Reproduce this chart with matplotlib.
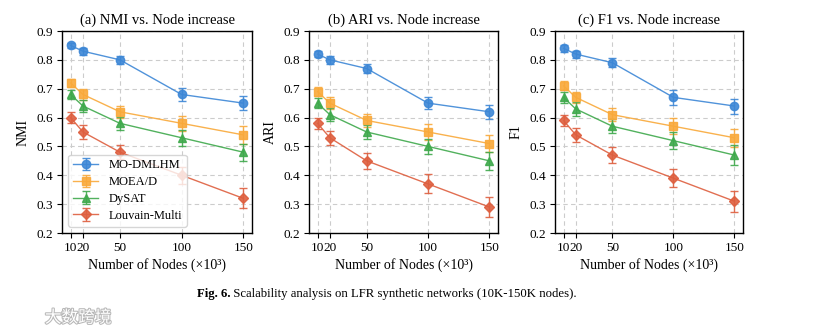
import matplotlib
matplotlib.use("Agg")
import matplotlib.pyplot as plt
from matplotlib import patheffects as pe

nodes = [10, 20, 50, 100, 150]
methods = ["MO-DMLHM", "MOEA/D", "DySAT", "Louvain-Multi"]
colors = ["#3D87D6", "#F9A93A", "#3FA94C", "#DE5F3F"]
markers = ["o", "s", "^", "D"]

nmi_mean = {
    "MO-DMLHM": [0.85, 0.83, 0.80, 0.68, 0.65],
    "MOEA/D": [0.72, 0.68, 0.62, 0.58, 0.54],
    "DySAT": [0.68, 0.64, 0.58, 0.53, 0.48],
    "Louvain-Multi": [0.60, 0.55, 0.48, 0.40, 0.32],
}
nmi_err = {
    "MO-DMLHM": [0.010, 0.012, 0.015, 0.022, 0.025],
    "MOEA/D": [0.015, 0.018, 0.020, 0.027, 0.030],
    "DySAT": [0.017, 0.020, 0.022, 0.027, 0.030],
    "Louvain-Multi": [0.020, 0.023, 0.025, 0.030, 0.035],
}
ari_mean = {
    "MO-DMLHM": [0.82, 0.80, 0.77, 0.65, 0.62],
    "MOEA/D": [0.69, 0.65, 0.59, 0.55, 0.51],
    "DySAT": [0.65, 0.61, 0.55, 0.50, 0.45],
    "Louvain-Multi": [0.58, 0.53, 0.45, 0.37, 0.29],
}
ari_err = {
    "MO-DMLHM": [0.010, 0.015, 0.016, 0.022, 0.025],
    "MOEA/D": [0.016, 0.020, 0.022, 0.026, 0.030],
    "DySAT": [0.018, 0.022, 0.025, 0.027, 0.032],
    "Louvain-Multi": [0.020, 0.024, 0.027, 0.033, 0.035],
}
f1_mean = {
    "MO-DMLHM": [0.84, 0.82, 0.79, 0.67, 0.64],
    "MOEA/D": [0.71, 0.67, 0.61, 0.57, 0.53],
    "DySAT": [0.67, 0.63, 0.57, 0.52, 0.47],
    "Louvain-Multi": [0.59, 0.54, 0.47, 0.39, 0.31],
}
f1_err = {
    "MO-DMLHM": [0.012, 0.012, 0.016, 0.025, 0.026],
    "MOEA/D": [0.016, 0.020, 0.022, 0.027, 0.032],
    "DySAT": [0.020, 0.025, 0.025, 0.030, 0.035],
    "Louvain-Multi": [0.020, 0.024, 0.027, 0.032, 0.036],
}

panels = [
    ("(a) NMI vs. Node increase", "NMI", nmi_mean, nmi_err),
    ("(b) ARI vs. Node increase", "ARI", ari_mean, ari_err),
    ("(c) F1 vs. Node increase", "F1", f1_mean, f1_err),
]
yticks = [0.2, 0.3, 0.4, 0.5, 0.6, 0.7, 0.8, 0.9]
xlabel = "Number of Nodes (×10³)"
caption_bold = "Fig. 6."
caption_rest = " Scalability analysis on LFR synthetic networks (10K-150K nodes)."
watermark = "大数跨境"

plt.rcParams["font.family"] = ["Liberation Serif", "DejaVu Serif"]

fig = plt.figure(figsize=(8.30, 3.33), dpi=100)
lefts = [62 / 830, 309 / 830, 555 / 830]
widths = [190 / 830, 189 / 830, 188 / 830]
bottom = 100 / 333
height = 202 / 333

for i, (title, ylab, means, errs) in enumerate(panels):
    ax = fig.add_axes([lefts[i], bottom, widths[i], height])
    for m, c, mk in zip(methods, colors, markers):
        ax.errorbar(nodes, means[m], yerr=errs[m], color=c, marker=mk,
                    markersize=6 if mk != "D" else 5.5, linewidth=1.0,
                    elinewidth=1.0, capsize=3, capthick=1.0, alpha=0.9,
                    label=m)
    ax.set_ylim(0.2, 0.9)
    ax.set_yticks(yticks)
    ax.set_yticklabels([f"{v:.1f}" for v in yticks])
    ax.set_xticks(nodes)
    ax.set_xticklabels([str(n) for n in nodes])
    ax.grid(True, linestyle=(0, (4, 3)), color="#cccccc", linewidth=0.8)
    ax.set_axisbelow(True)
    ax.tick_params(labelsize=9.5, direction="out", length=3.5, pad=3)
    ax.set_title(title, fontsize=10.5, pad=5)
    ax.set_xlabel(xlabel, fontsize=10, labelpad=3)
    ax.set_ylabel(ylab, fontsize=10, labelpad=5)
    for s in ax.spines.values():
        s.set_linewidth(1.0)
    if i == 0:
        leg = ax.legend(loc="lower left", fontsize=9, frameon=True,
                        borderpad=0.4, handlelength=2.0, labelspacing=0.38)
        leg.get_frame().set_edgecolor("#cccccc")

t1 = fig.text(0.237, 0.118, caption_bold, fontsize=9.2, fontweight="bold",
              ha="left", va="center")
fig.canvas.draw()
bb = t1.get_window_extent()
fig.text(bb.x1 / fig.bbox.width, 0.118, caption_rest, fontsize=9.2,
         ha="left", va="center")
fig.text(0.054, 0.045, watermark, fontsize=12, color="white",
         family=["Noto Sans CJK SC", "DejaVu Sans"], ha="left", va="center",
         path_effects=[pe.withStroke(linewidth=1.5, foreground="#b8b8b8")])

fig.savefig("out.png", dpi=100)
